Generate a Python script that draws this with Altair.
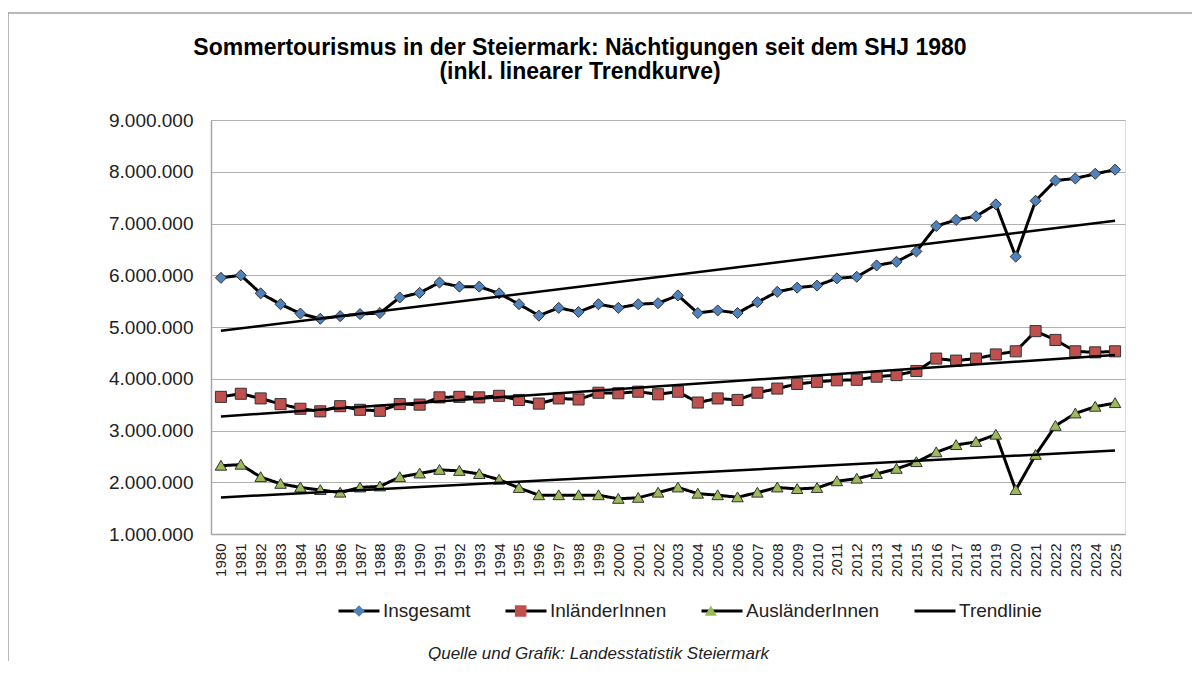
import altair as alt
import pandas as pd

years = list(range(1980, 2026))

insgesamt = [5.95, 6.00, 5.65, 5.44, 5.26, 5.16, 5.21, 5.25, 5.27, 5.57,
             5.66, 5.86, 5.78, 5.78, 5.65, 5.44, 5.22, 5.37, 5.29, 5.44,
             5.37, 5.44, 5.46, 5.61, 5.27, 5.32, 5.27, 5.48, 5.68, 5.76,
             5.80, 5.94, 5.97, 6.19, 6.26, 6.46, 6.95, 7.07, 7.14, 7.37,
             6.36, 7.44, 7.83, 7.87, 7.96, 8.04]
inlaender = [3.65, 3.71, 3.62, 3.51, 3.42, 3.37, 3.47, 3.40, 3.38, 3.51,
             3.50, 3.64, 3.65, 3.64, 3.67, 3.59, 3.52, 3.62, 3.60, 3.73,
             3.72, 3.75, 3.70, 3.75, 3.54, 3.62, 3.59, 3.73, 3.81, 3.90,
             3.94, 3.97, 3.98, 4.04, 4.07, 4.15, 4.39, 4.35, 4.39, 4.47,
             4.53, 4.92, 4.75, 4.53, 4.51, 4.53]
auslaender = [2.32, 2.34, 2.10, 1.97, 1.90, 1.85, 1.80, 1.90, 1.92, 2.10,
              2.17, 2.24, 2.22, 2.16, 2.05, 1.89, 1.75, 1.75, 1.75, 1.75,
              1.68, 1.70, 1.80, 1.90, 1.78, 1.75, 1.71, 1.80, 1.90, 1.87,
              1.89, 2.02, 2.07, 2.16, 2.26, 2.39, 2.58, 2.72, 2.78, 2.92,
              1.85, 2.53, 3.09, 3.33, 3.46, 3.53]

series_names = ["Insgesamt", "InländerInnen", "AusländerInnen"]
legend_names = series_names + ["Trendlinie"]
marker_colors = ["#4F81BD", "#C0504D", "#9BBB59"]
# invisible end points keep each marker symbol as wide as the line symbol
ext = "M-1.0,0L-1.0,0M1.0,0L1.0,0"
marker_paths = [
    ext + "M-0.27,0L0,-0.27L0.27,0L0,0.27Z",
    ext + "M-0.27,-0.27H0.27V0.27H-0.27Z",
    ext + "M0,-0.26L0.28,0.22L-0.28,0.22Z",
]
# legend entry starts (px from plot left), matching the line legend's columns
marker_legend_x = [126, 287.65, 477.85]
y_ticks = [1e6, 2e6, 3e6, 4e6, 5e6, 6e6, 7e6, 8e6, 9e6]

rows = []
for name, vals in zip(series_names, [insgesamt, inlaender, auslaender]):
    for yr, v in zip(years, vals):
        rows.append({"year": yr, "value": v * 1e6, "series": name})
df = pd.DataFrame(rows)

FONT = "Liberation Sans"
LEGEND_Y = 469

x_enc = alt.X(
    "year:Q",
    scale=alt.Scale(domain=[1979.5, 2025.5], nice=False, zero=False),
    axis=alt.Axis(
        values=years, tickCount=60, format="d", labelAngle=270, labelFontSize=15,
        labelFont=FONT, labelColor="#222222", ticks=False, tickSize=0,
        labelPadding=9, grid=False, domainColor="#a6a6a6", domainWidth=1.5,
        labelOverlap=False, labelFlush=False,
        title="Quelle und Grafik: Landesstatistik Steiermark",
        titleFont=FONT, titleFontSize=17, titleFontStyle="italic",
        titleFontWeight="normal", titleColor="#222222",
        titleX=387, titleY=119, titleAlign="center", titleBaseline="middle",
    ),
)
y_enc = alt.Y(
    "value:Q",
    scale=alt.Scale(domain=[1e6, 9e6], nice=False, zero=False),
    axis=alt.Axis(
        values=y_ticks, tickCount=20,
        labelExpr="format(datum.value / 1000000, 'd') + '.000.000'",
        ticks=False, tickSize=0, labelPadding=18, labelFontSize=19,
        labelFont=FONT, labelColor="#222222", gridColor="#b0b0b0",
        gridWidth=1.2, domainColor="#a6a6a6", domainWidth=1.5, title=None,
    ),
)

lines = alt.Chart(df).mark_line(color="black", strokeWidth=3).encode(
    x=x_enc, y=y_enc,
    strokeDash=alt.StrokeDash(
        "series:N",
        scale=alt.Scale(domain=legend_names, range=[[1, 0]] * 4),
        legend=alt.Legend(
            orient="none", legendX=126, legendY=LEGEND_Y, direction="horizontal",
            columns=4, columnPadding=28, labelOffset=2, labelFontSize=19,
            labelFont=FONT, labelColor="#222222", title=None, padding=0,
            symbolType="stroke", symbolSize=1681, symbolStrokeWidth=3,
            symbolStrokeColor="black",
        ),
    ),
)

trend = alt.Chart(df).transform_regression(
    "year", "value", groupby=["series"]
).mark_line(color="black", strokeWidth=2.5).encode(
    x="year:Q", y="value:Q", detail="series:N"
)

point_layers = []
for name, path, color, lx in zip(series_names, marker_paths, marker_colors, marker_legend_x):
    # sqrt(1849) + 1 == sqrt(1681) + 3: the marker sits on the centre of the line symbol
    leg = alt.Legend(
        orient="none", legendX=lx, legendY=LEGEND_Y, direction="horizontal",
        labelExpr="''", labelOffset=2, labelFontSize=19, labelFont=FONT,
        title=None, padding=0, symbolSize=1849, symbolStrokeWidth=1,
        symbolStrokeColor="#333333", symbolOpacity=1, zindex=2,
    )
    point_layers.append(
        alt.Chart(df).transform_filter(alt.datum.series == name).mark_point(
            filled=True, size=1681, stroke="#333333", strokeWidth=1, opacity=1
        ).encode(
            x="year:Q", y="value:Q",
            shape=alt.Shape("series:N", scale=alt.Scale(domain=[name], range=[path]), legend=leg),
            fill=alt.Fill("series:N", scale=alt.Scale(domain=[name], range=[color]), legend=leg),
        )
    )

frame_df = pd.DataFrame({"k": [0]})
frame_left = alt.Chart(frame_df).mark_rule(color="#a0a0a0", strokeWidth=1.5).encode(
    x=alt.value(-203), y=alt.value(-107), y2=alt.value(560)
)
frame_top = alt.Chart(frame_df).mark_rule(color="#a0a0a0", strokeWidth=1.5).encode(
    x=alt.value(-203), x2=alt.value(1000), y=alt.value(-107)
)

chart = alt.layer(lines, *point_layers, trend, frame_left, frame_top).resolve_scale(
    shape="independent", fill="independent"
).resolve_legend(
    shape="independent", fill="independent"
).properties(
    width=914, height=414,
    padding={"left": 203, "top": 112, "right": 67, "bottom": 127},
    autosize=alt.AutoSizeParams(type="none"),
    title=alt.TitleParams(
        text=["Sommertourismus in der Steiermark: Nächtigungen seit dem SHJ 1980",
              "(inkl. linearer Trendkurve)"],
        font=FONT, fontSize=23, fontWeight="bold", color="black",
        anchor="middle", frame="group", dx=-88, dy=112, offset=40, lineHeight=24,
    ),
).configure_view(stroke=None).configure(background="white")

chart.save("out.html", embed_options={"renderer": "svg", "actions": False})
